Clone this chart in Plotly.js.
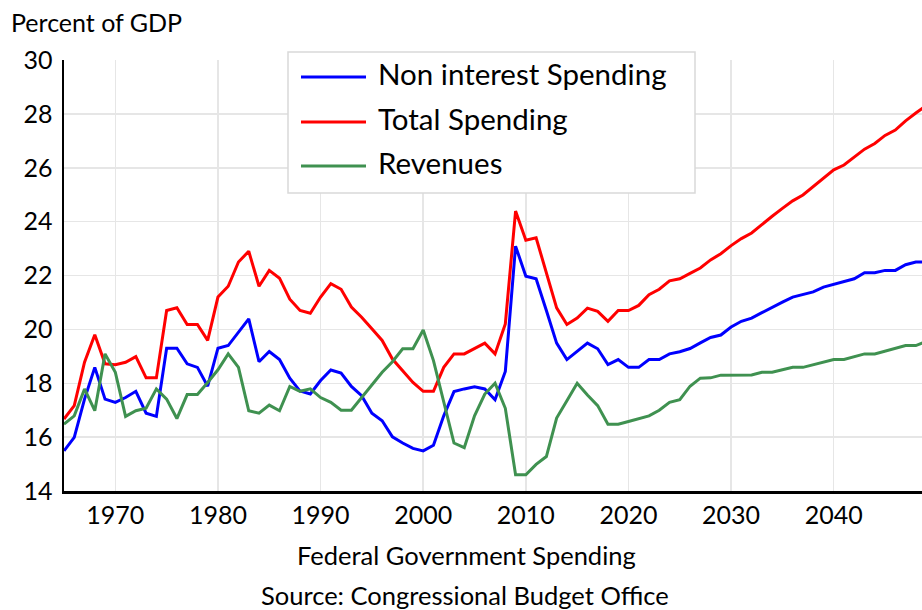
<!DOCTYPE html>
<html>
<head>
<meta charset="utf-8">
<script src="https://cdn.plot.ly/plotly-3.0.1.min.js"></script>
<style>html,body{margin:0;padding:0;background:#fff;}#chart{width:922px;height:610px;}</style>
</head>
<body>
<div id="chart"></div>
<script>
const years = [];
for (let y = 1965; y <= 2049; y++) years.push(y);

const nonInterestSpending = [
15.49,15.99,17.41,18.59,17.41,17.29,17.47,17.70,16.89,16.77,
19.30,19.30,18.72,18.59,17.89,19.30,19.40,19.90,20.39,18.80,
19.18,18.88,18.19,17.71,17.60,18.10,18.49,18.38,17.88,17.54,
16.89,16.61,16.01,15.78,15.58,15.49,15.70,16.79,17.69,17.79,
17.87,17.79,17.39,18.44,23.09,21.97,21.88,20.70,19.49,18.88,
19.19,19.49,19.28,18.69,18.88,18.59,18.59,18.88,18.88,19.09,
19.17,19.29,19.50,19.70,19.79,20.09,20.30,20.42,20.62,20.83,
21.01,21.20,21.30,21.39,21.57,21.67,21.76,21.88,22.10,22.10,
22.19,22.19,22.40,22.50,22.50];

const totalSpending = [
16.67,17.17,18.78,19.80,18.72,18.69,18.78,18.99,18.20,18.20,
20.70,20.80,20.18,20.18,19.59,21.20,21.60,22.50,22.90,21.60,
22.19,21.90,21.12,20.70,20.60,21.20,21.70,21.49,20.83,20.45,
20.02,19.59,18.90,18.47,18.03,17.70,17.70,18.59,19.09,19.09,
19.30,19.49,19.09,20.20,24.39,23.31,23.40,22.13,20.80,20.18,
20.42,20.79,20.67,20.30,20.70,20.70,20.89,21.29,21.49,21.80,
21.88,22.08,22.28,22.58,22.81,23.11,23.37,23.58,23.90,24.20,
24.49,24.77,24.99,25.30,25.60,25.92,26.10,26.39,26.69,26.90,
27.20,27.40,27.74,28.03,28.30];

const revenues = [
16.48,16.79,17.79,16.98,19.09,18.41,16.77,16.98,17.07,17.79,
17.41,16.69,17.58,17.58,18.03,18.50,19.09,18.59,16.98,16.89,
17.19,16.98,17.88,17.70,17.79,17.47,17.29,17.00,17.00,17.47,
17.97,18.41,18.80,19.28,19.28,19.98,18.84,17.29,15.78,15.61,
16.79,17.60,18.00,17.07,14.60,14.60,14.99,15.28,16.71,17.35,
18.00,17.56,17.17,16.48,16.48,16.58,16.69,16.79,17.00,17.29,
17.39,17.89,18.19,18.20,18.30,18.30,18.31,18.31,18.41,18.41,
18.50,18.59,18.59,18.69,18.78,18.88,18.88,18.99,19.09,19.09,
19.19,19.30,19.40,19.40,19.55];

const seriesNames = ["Non interest Spending", "Total Spending", "Revenues"];
const seriesColors = ["#0000ff", "#ff0000", "#3f9150"];
const xTicks = [1970, 1980, 1990, 2000, 2010, 2020, 2030, 2040];
const yTicks = [14, 16, 18, 20, 22, 24, 26, 28, 30];

const FONT = "Lato, 'Open Sans', sans-serif";
const seriesValues = [nonInterestSpending, totalSpending, revenues];

const traces = seriesValues.map((vals, i) => ({
  x: years, y: vals, type: "scatter", mode: "lines",
  name: seriesNames[i], showlegend: false,
  line: {color: seriesColors[i], width: 3},
  cliponaxis: true
}));

// plot area in pixels: left 64, right 922, top 60, bottom 491
const L = 64, R = 922, T = 60, B = 491;
const px = x => (x - L) / (R - L);
const py = y => (B - y) / (B - T);

const shapes = [{
  type: "rect", xref: "paper", yref: "paper",
  x0: px(288), x1: px(695), y0: py(193), y1: py(52),
  line: {color: "#d9d9d9", width: 1.5}, fillcolor: "#ffffff", layer: "above"
}];
const annotations = [];
const rowsY = [77, 122, 166];
seriesNames.forEach((n, i) => {
  shapes.push({
    type: "line", xref: "paper", yref: "paper",
    x0: px(301), x1: px(366), y0: py(rowsY[i]), y1: py(rowsY[i]),
    line: {color: seriesColors[i], width: 3}, layer: "above"
  });
  annotations.push({
    xref: "paper", yref: "paper", x: px(376), y: py(rowsY[i] - 4),
    xanchor: "left", yanchor: "middle", showarrow: false,
    text: n, font: {family: FONT, size: 29.5, color: "#000"}
  });
});
annotations.push({
  xref: "paper", yref: "paper", x: px(9), y: py(22),
  xanchor: "left", yanchor: "middle", showarrow: false,
  text: "Percent of GDP", font: {family: FONT, size: 25, color: "#000"}
});
annotations.push({
  xref: "paper", yref: "paper", x: px(466), y: py(555),
  xanchor: "center", yanchor: "middle", showarrow: false,
  text: "Federal Government Spending", font: {family: FONT, size: 25.5, color: "#000"}
});
annotations.push({
  xref: "paper", yref: "paper", x: px(465), y: py(595),
  xanchor: "center", yanchor: "middle", showarrow: false,
  text: "Source: Congressional Budget Office", font: {family: FONT, size: 25.5, color: "#000"}
});

const layout = {
  width: 922, height: 610,
  margin: {l: L, r: 922 - R, t: T, b: 610 - B, pad: 0},
  paper_bgcolor: "#fff", plot_bgcolor: "#fff",
  font: {family: FONT, size: 25, color: "#000"},
  showlegend: false,
  xaxis: {
    range: [1965, 2048.6], tickvals: xTicks, ticktext: xTicks.map(String),
    showgrid: true, gridcolor: "#e6e6e6", gridwidth: 1.5,
    showline: true, linecolor: "#000", linewidth: 2.5, mirror: false,
    ticks: "", zeroline: false, ticklabelstandoff: 0,
    tickfont: {family: FONT, size: 25, color: "#000"}
  },
  yaxis: {
    range: [14, 30], tickvals: yTicks, ticktext: yTicks.map(String),
    showgrid: true, gridcolor: "#e6e6e6", gridwidth: 1.5,
    showline: true, linecolor: "#000", linewidth: 2.5,
    ticks: "", zeroline: false, ticklabelstandoff: 4,
    tickfont: {family: FONT, size: 25, color: "#000"}
  },
  shapes: shapes,
  annotations: annotations
};

Plotly.newPlot("chart", traces, layout, {displayModeBar: false, staticPlot: true});
</script>
</body>
</html>
